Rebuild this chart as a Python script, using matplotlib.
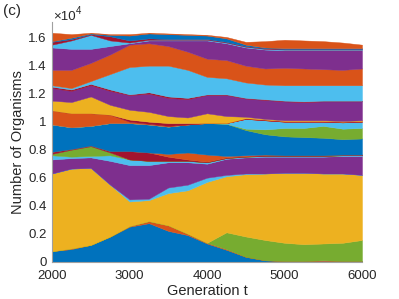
import numpy as np
import matplotlib
matplotlib.use("Agg")
import matplotlib.pyplot as plt

plt.rcParams['font.family'] = ['Liberation Sans', 'DejaVu Sans']

# generation
generation = [2000, 2250, 2500, 2750, 3000, 3250, 3500, 3750, 4000,
              4250, 4500, 4750, 5000, 5250, 5500, 5750, 6000]

# organisms per species, stacked bottom -> top
sp01 = [750, 900, 1200, 1800, 2500, 2750, 2200, 1900, 1300, 850, 350, 100, 50, 50, 50, 50, 50]
sp02 = [0, 50, 0, 0, 50, 150, 400, 100, 50, 50, 0, 0, 0, 0, 50, 0, 0]
sp03 = [0, 0, 0, 0, 0, 0, 0, 0, 0, 1200, 1450, 1450, 1300, 1200, 1200, 1300, 1500]
sp04 = [5550, 5700, 5500, 3700, 1750, 1500, 2300, 3100, 4350, 4000, 4450, 4750, 5000, 5100, 5000, 4950, 4650]
sp05 = [0, 0, 0, 0, 150, 100, 400, 400, 300, 100, 50, 0, 0, 0, 0, 0, 0]
sp06 = [1000, 750, 750, 1700, 2450, 2400, 1800, 1600, 1000, 1150, 1150, 1200, 1150, 1150, 1200, 1250, 1350]
sp07 = [300, 100, 100, 400, 400, 300, 100, 100, 100, 50, 50, 50, 50, 50, 50, 50, 50]
sp08 = [100, 500, 700, 200, 0, 0, 0, 0, 0, 0, 0, 0, 0, 0, 0, 0, 0]
sp09 = [150, 50, 50, 100, 600, 600, 300, 100, 50, 50, 50, 50, 50, 50, 50, 50, 50]
sp10 = [0, 0, 0, 0, 0, 0, 200, 500, 500, 100, 50, 50, 0, 0, 0, 0, 0]
sp11 = [1950, 1550, 1400, 2000, 2000, 2000, 1950, 2000, 2250, 2300, 1800, 1450, 1350, 1300, 1250, 1100, 1150]
sp12 = [0, 0, 0, 0, 0, 0, 0, 0, 0, 0, 100, 350, 600, 650, 850, 750, 750]
sp13 = [0, 0, 0, 0, 0, 0, 0, 0, 0, 50, 700, 650, 450, 450, 300, 450, 450]
sp14 = [1000, 1000, 900, 600, 100, 50, 50, 0, 0, 0, 0, 0, 0, 0, 0, 0, 0]
sp15 = [0, 0, 0, 0, 150, 150, 200, 100, 0, 0, 50, 50, 50, 50, 50, 50, 50]
sp16 = [700, 800, 1200, 700, 700, 700, 500, 400, 700, 500, 100, 50, 50, 50, 50, 50, 50]
sp17 = [900, 800, 800, 1000, 1050, 1300, 1300, 1300, 1300, 1500, 1300, 1350, 1350, 1300, 1350, 1400, 1350]
sp18 = [100, 100, 100, 100, 50, 100, 100, 100, 50, 50, 50, 50, 50, 50, 50, 50, 50]
sp19 = [100, 100, 200, 1100, 1950, 1900, 2200, 2000, 1250, 1150, 1100, 1050, 1100, 1150, 1100, 1100, 1100]
sp20 = [1100, 1300, 1300, 1400, 1600, 1600, 1400, 1300, 1300, 1300, 1200, 1150, 1250, 1200, 1150, 1100, 1200]
sp21 = [1600, 1500, 1000, 600, 100, 200, 400, 800, 1300, 1200, 1300, 1350, 1250, 1300, 1350, 1400, 1300]
sp22 = [200, 600, 1000, 400, 50, 50, 50, 50, 50, 50, 50, 50, 50, 50, 50, 50, 50]
sp23 = [200, 100, 50, 300, 150, 100, 50, 50, 50, 50, 50, 50, 50, 50, 50, 50, 50]
sp24 = [50, 100, 50, 100, 350, 350, 350, 300, 250, 250, 100, 50, 50, 50, 50, 50, 50]
sp25 = [600, 250, 50, 50, 100, 50, 50, 50, 50, 100, 200, 450, 600, 550, 500, 400, 250]

species = [sp01, sp02, sp03, sp04, sp05, sp06, sp07, sp08, sp09, sp10, sp11, sp12, sp13,
           sp14, sp15, sp16, sp17, sp18, sp19, sp20, sp21, sp22, sp23, sp24, sp25]

BLUE, ORANGE, YELLOW, PURPLE = '#0072BD', '#D95319', '#EDB120', '#7E2F8E'
GREEN, LBLUE, RED = '#77AC30', '#4DBEEE', '#A2142F'
colors = [BLUE, ORANGE, GREEN, YELLOW, LBLUE, PURPLE, LBLUE, GREEN, RED, ORANGE,
          BLUE, GREEN, LBLUE, ORANGE, RED, YELLOW, PURPLE, RED, LBLUE, ORANGE,
          PURPLE, LBLUE, RED, BLUE, ORANGE]

yticks = [0, 2000, 4000, 6000, 8000, 10000, 12000, 14000, 16000]
ytick_labels = ['0', '0.2', '0.4', '0.6', '0.8', '1', '1.2', '1.4', '1.6']
xticks = [2000, 3000, 4000, 5000, 6000]

fig = plt.figure(figsize=(3.99, 2.99), dpi=100)
ax = fig.add_axes([52 / 399, 1 - 261.7 / 299, 310 / 399, 240 / 299])

polys = ax.stackplot(generation, np.array(species, dtype=float), colors=colors, linewidth=0.3)
for p, c in zip(polys, colors):
    p.set_edgecolor(c)

ax.set_xlim(2000, 6000)
ax.set_ylim(0, 17140)
ax.set_xticks(xticks)
ax.set_xticklabels([str(v) for v in xticks])
ax.set_yticks(yticks)
ax.set_yticklabels(ytick_labels)
ax.tick_params(length=0, labelsize=9.5, colors='#262626')
ax.tick_params(axis='x', pad=6)
ax.tick_params(axis='y', pad=4)
for s in ['top', 'right']:
    ax.spines[s].set_visible(False)
for s in ['left', 'bottom']:
    ax.spines[s].set_color('#a0a0a0')
    ax.spines[s].set_linewidth(0.8)

ax.set_xlabel('Generation t', fontsize=10.5, color='#262626')
ax.set_ylabel('Number of Organisms', fontsize=10.5, color='#262626')
ax.xaxis.set_label_coords(0.5, -0.092)
ax.yaxis.set_label_coords(-0.088, 0.5)

fig.text(3 / 399, 1 - 11.5 / 299, '(c)', fontsize=11, ha='left', va='center', color='#262626')
fig.text(53 / 399, 1 - 20 / 299, '×10', fontsize=9.5, ha='left', va='baseline', color='#262626')
fig.text(76 / 399, 1 - 14 / 299, '4', fontsize=7, ha='left', va='baseline', color='#262626')

fig.savefig('out.png', dpi=100)
